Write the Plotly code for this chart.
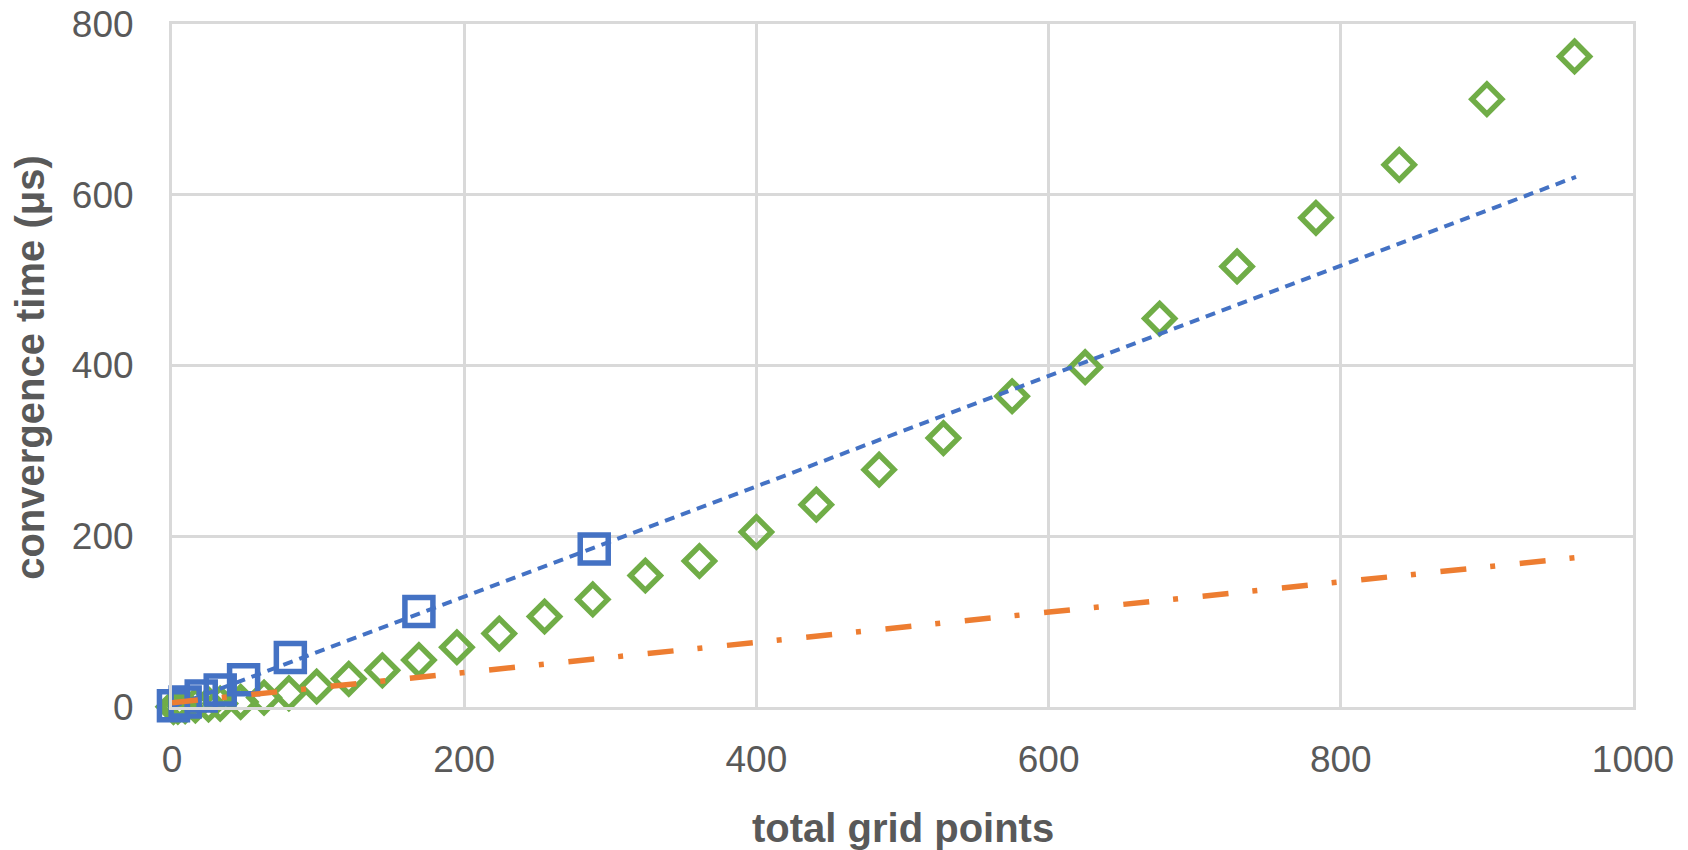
import plotly.graph_objects as go

# Data
green_x = [1, 4, 9, 16, 25, 33, 47, 63, 80, 99, 121, 144, 169, 195, 224, 255, 288, 324, 361, 400,
           441, 484, 528, 575, 625, 676, 729, 783, 840, 900, 960]
green_y = [0.2, 0.5, 1, 2, 3, 4, 6, 11, 16, 24, 33, 43, 55, 70, 86, 106, 126, 154, 171, 205,
           237, 278, 315, 364, 398, 455, 516, 573, 635, 712, 762]

blue_x = [1, 9, 20, 33, 49, 81, 169, 289]
blue_y = [1.5, 6, 13, 20, 32, 58, 112, 185]

trend_x = [0, 961]
blue_trend_y = [0, 621]
orange_trend_y = [5, 175]

x_ticks = [0, 200, 400, 600, 800, 1000]
y_ticks = [0, 200, 400, 600, 800]

BLUE = "#4472C4"
GREEN = "#70AD47"
ORANGE = "#ED7D31"
GRID = "#D9D9D9"
TXT = "#595959"

fig = go.Figure()
fig.add_trace(go.Scatter(x=green_x, y=green_y, mode="markers", cliponaxis=False,
                         marker=dict(symbol="diamond-open", size=23, color=GREEN,
                                     line=dict(width=5.5, color=GREEN))))
fig.add_trace(go.Scatter(x=blue_x, y=blue_y, mode="markers", cliponaxis=False,
                         marker=dict(symbol="square-open", size=28, color=BLUE,
                                     line=dict(width=5.5, color=BLUE))))
fig.add_trace(go.Scatter(x=trend_x, y=blue_trend_y, mode="lines", cliponaxis=False,
                         line=dict(color=BLUE, width=4, dash="10px,7px")))
fig.add_trace(go.Scatter(x=trend_x, y=orange_trend_y, mode="lines", cliponaxis=False,
                         line=dict(color=ORANGE, width=5.5, dash="26px,24px,5px,24.7px")))

fig.update_layout(
    width=1688, height=850,
    margin=dict(l=172, r=55, t=24, b=143, autoexpand=False),
    paper_bgcolor="white", plot_bgcolor="white",
    showlegend=False,
    font=dict(family="Liberation Sans, Arial, sans-serif", color=TXT),
)
fig.update_xaxes(range=[0, 1000], tickvals=x_ticks, showgrid=True, gridcolor=GRID, gridwidth=3,
                 showline=True, linecolor=GRID, linewidth=3, mirror=True, zeroline=False,
                 automargin=False,
                 ticks="", tickfont=dict(size=37, color=TXT), ticklabelstandoff=18)
fig.update_yaxes(range=[0, 800], tickvals=y_ticks, showgrid=True, gridcolor=GRID, gridwidth=3,
                 showline=True, linecolor=GRID, linewidth=3, mirror=True, zeroline=False,
                 automargin=False,
                 ticks="", tickfont=dict(size=37, color=TXT), ticklabelstandoff=28)

fig.add_annotation(text="<b>total grid points</b>", xref="paper", yref="paper",
                   x=0.5, y=-0.1766, showarrow=False, xanchor="center", yanchor="middle",
                   font=dict(size=40, color=TXT))
fig.add_annotation(text="<b>convergence time (μs)</b>", xref="paper", yref="paper",
                   x=-0.0972, y=0.498, showarrow=False, xanchor="center", yanchor="middle",
                   textangle=-90, font=dict(size=40, color=TXT))

fig.write_html("out.html")
